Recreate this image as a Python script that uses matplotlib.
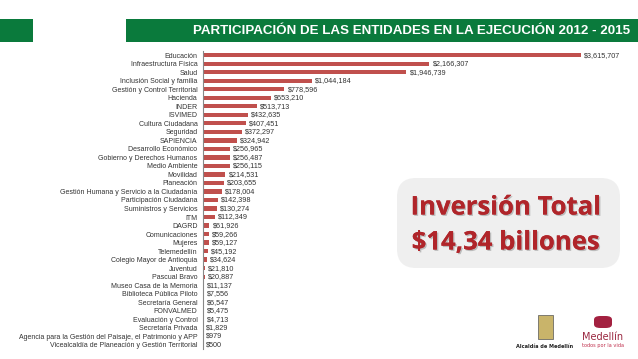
import matplotlib
matplotlib.use("Agg")
import matplotlib.pyplot as plt
from matplotlib.patches import FancyBboxPatch, Rectangle
import matplotlib.patheffects as pe

categories = [
    "Educación", "Infraestructura Física", "Salud", "Inclusión Social y familia",
    "Gestión y Control Territorial", "Hacienda", "INDER", "ISVIMED",
    "Cultura Ciudadana", "Seguridad", "SAPIENCIA", "Desarrollo Económico",
    "Gobierno y Derechos Humanos", "Medio Ambiente", "Movilidad", "Planeación",
    "Gestión Humana y Servicio a la Ciudadanía", "Participación Ciudadana",
    "Suministros y Servicios", "ITM", "DAGRD", "Comunicaciones", "Mujeres",
    "Telemedellín", "Colegio Mayor de Antioquia", "Juventud", "Pascual Bravo",
    "Museo Casa de la Memoria", "Biblioteca Pública Piloto", "Secretaría General",
    "FONVALMED", "Evaluación y Control", "Secretaría Privada",
    "Agencia para la Gestión del Paisaje, el Patrimonio y APP",
    "Vicealcaldía de Planeación y Gestión Territorial",
]
values = [
    3615707, 2166307, 1946739, 1044184, 778596, 653210, 513713, 432635,
    407451, 372297, 324942, 256965, 256487, 256115, 214531, 203655,
    178004, 142398, 130274, 112349, 61926, 59266, 59127, 45192, 34624,
    21810, 20887, 11137, 7556, 6547, 5475, 4713, 1829, 979, 500,
]
title = "PARTICIPACIÓN DE LAS ENTIDADES EN LA EJECUCIÓN 2012 - 2015"
box_lines = ["Inversión Total", "$14,34 billones"]

W, H = 638, 359
fig = plt.figure(figsize=(W / 100, H / 100), dpi=100)
fig.patch.set_facecolor("white")

green = "#0A7A3C"
# header blocks
fig.patches.append(Rectangle((0, 1 - 42 / H), 33 / W, 23 / H, transform=fig.transFigure,
                             facecolor=green, edgecolor="none"))
fig.patches.append(Rectangle((126 / W, 1 - 42 / H), 1 - 126 / W, 23 / H, transform=fig.transFigure,
                             facecolor=green, edgecolor="none"))
fig.text(630 / W, 1 - 31 / H, title, color="white", fontsize=9.6, fontweight="bold",
         ha="right", va="center", family=["Liberation Sans", "DejaVu Sans"])

# bar axes
left, right = 203, 621
top, bottom = 51, 349
ax = fig.add_axes([left / W, 1 - bottom / H, (right - left) / W, (bottom - top) / H])
n = len(categories)
ypos = list(range(n))
ax.barh(ypos, values, height=0.5, color="#C0504D", edgecolor="none")
ax.set_xlim(0, 4_000_000)
ax.set_ylim(n - 0.5, -0.5)
ax.set_yticks(ypos)
ax.set_yticklabels(categories, fontsize=5, color="#333333", family=["Liberation Sans", "DejaVu Sans"])
ax.tick_params(axis="y", length=0, pad=4)
ax.set_xticks([])
for s in ["top", "right", "bottom"]:
    ax.spines[s].set_visible(False)
ax.spines["left"].set_color("#888888")
ax.spines["left"].set_linewidth(0.8)
ax.patch.set_alpha(0)
for y, v in zip(ypos, values):
    ax.text(v + 30000, y, f"${v:,}", fontsize=5.2, color="#333333", va="center", ha="left",
            family=["Liberation Sans", "DejaVu Sans"])

# total box
bx0, by0, bx1, by1 = 397, 178, 620, 268
fig.patches.append(FancyBboxPatch((bx0 / W, 1 - by1 / H), (bx1 - bx0) / W, (by1 - by0) / H,
                                  boxstyle="round,pad=0,rounding_size=0.03",
                                  transform=fig.transFigure, facecolor="#EFEFEF",
                                  edgecolor="none", mutation_aspect=W / H))
shadow = [pe.withSimplePatchShadow(offset=(1, -1), shadow_rgbFace="#888888", alpha=0.5), pe.Normal()]
fig.text(506 / W, 1 - 207 / H, box_lines[0], fontsize=18.5, fontweight="bold", color="#B0252A",
         ha="center", va="center", family=["Open Sans", "DejaVu Sans"], path_effects=shadow)
fig.text(506 / W, 1 - 242 / H, box_lines[1], fontsize=18.5, fontweight="bold", color="#B0252A",
         ha="center", va="center", family=["Open Sans", "DejaVu Sans"], path_effects=shadow)

# logos (approximate)
fig.patches.append(Rectangle((538 / W, 1 - 339 / H), 15 / W, 24 / H, transform=fig.transFigure,
                             facecolor="#C9B46A", edgecolor="#555555", linewidth=0.5))
fig.text(545 / W, 1 - 346 / H, "Alcaldía de Medellín", fontsize=3.6, fontweight="bold",
         color="#222222", ha="center", va="center")
fig.patches.append(FancyBboxPatch((594 / W, 1 - 328 / H), 18 / W, 12 / H,
                                  boxstyle="round,pad=0,rounding_size=0.01",
                                  transform=fig.transFigure, facecolor="#A32140", edgecolor="none"))
fig.text(603 / W, 1 - 337 / H, "Medellín", fontsize=7, color="#9A2740", ha="center", va="center")
fig.text(603 / W, 1 - 345 / H, "todos por la vida", fontsize=3.6, color="#C0304D",
         ha="center", va="center")

fig.savefig("out.png", dpi=100)
